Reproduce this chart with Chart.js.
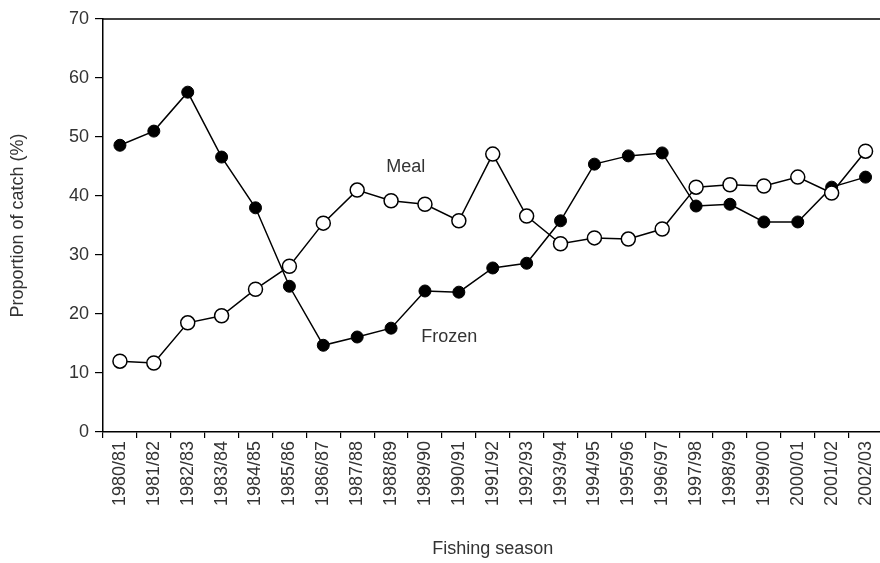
<!DOCTYPE html>
<html>
<head>
<meta charset="utf-8">
<script src="https://cdn.jsdelivr.net/npm/chart.js@4"></script>
<style>
html,body{margin:0;padding:0;background:#fff;overflow:hidden;width:880px;height:563px;}
#wrap{width:891px;height:563px;position:relative;}
</style>
</head>
<body>
<div id="wrap"><canvas id="c" width="891" height="563"></canvas></div>
<script>
const seasons = ["1980/81","1981/82","1982/83","1983/84","1984/85","1985/86","1986/87","1987/88","1988/89","1989/90","1990/91","1991/92","1992/93","1993/94","1994/95","1995/96","1996/97","1997/98","1998/99","1999/00","2000/01","2001/02","2002/03"];
const meal   = [12.0,11.7,18.5,19.7,24.2,28.1,35.4,41.0,39.2,38.6,35.8,47.1,36.6,31.9,32.9,32.7,34.4,41.5,41.9,41.7,43.2,40.5,47.6];
const frozen = [48.6,51.0,57.6,46.6,38.0,24.7,14.7,16.1,17.6,23.9,23.7,27.8,28.6,35.8,45.4,46.8,47.3,38.3,38.6,35.6,35.6,41.5,43.2];
const yTicks = [0,10,20,30,40,50,60,70];
const notes = [
  {text:"Meal",   x:8.43, y:44.9},
  {text:"Frozen", x:9.72, y:16.1}
];

const FONT = "'Liberation Sans', Arial, sans-serif";
const TXT = "#333333";
const FS = 18;

const extras = {
  id:'extras',
  afterDraw(chart){
    const ctx = chart.ctx, a = chart.chartArea;
    const xs = chart.scales.x, ys = chart.scales.y;
    ctx.save();
    ctx.strokeStyle = '#000'; ctx.lineWidth = 1.5;
    ctx.beginPath(); ctx.moveTo(a.left, a.top); ctx.lineTo(a.right, a.top); ctx.stroke();
    ctx.fillStyle = TXT; ctx.font = FS + "px " + FONT;
    ctx.textAlign = 'center'; ctx.textBaseline = 'middle';
    notes.forEach(n => ctx.fillText(n.text, xs.getPixelForValue(n.x), ys.getPixelForValue(n.y)));
    ctx.restore();
  }
};

new Chart(document.getElementById('c'), {
  type:'line',
  data:{
    labels:seasons,
    datasets:[
      {label:'Meal', data:meal, borderColor:'#000', borderWidth:1.5, pointRadius:7, pointBorderWidth:1.5, pointBackgroundColor:'#fff', pointBorderColor:'#000', tension:0},
      {label:'Frozen', data:frozen, borderColor:'#000', borderWidth:1.5, pointRadius:6, pointBorderWidth:1, pointBackgroundColor:'#000', pointBorderColor:'#000', tension:0}
    ]
  },
  options:{
    responsive:false, animation:false,
    layout:{padding:{left:0, top:19, right:0, bottom:0}},
    plugins:{legend:{display:false}, tooltip:{enabled:false}},
    scales:{
      x:{
        offset:true,
        grid:{display:true, drawOnChartArea:false, offset:true, tickLength:6, color:'#000', lineWidth:1.2},
        border:{display:true, color:'#000', width:1.5},
        ticks:{minRotation:90, maxRotation:90, autoSkip:false, padding:3, color:TXT, font:{family:FONT, size:FS}},
        title:{display:true, text:'Fishing season', color:TXT, font:{family:FONT, size:FS}, padding:{top:0,bottom:3}},
        afterFit(s){ s.height = 131; }
      },
      y:{
        min:0, max:70,
        afterBuildTicks(s){ s.ticks = yTicks.map(v => ({value:v})); },
        grid:{display:true, drawOnChartArea:false, tickLength:8, color:'#000', lineWidth:1.2},
        border:{display:true, color:'#000', width:1.5},
        ticks:{padding:6, color:TXT, font:{family:FONT, size:FS}},
        title:{display:true, text:'Proportion of catch (%)', color:TXT, font:{family:FONT, size:FS}, padding:{top:7,bottom:0}},
        afterFit(s){ s.width = 103; }
      }
    }
  },
  plugins:[extras]
});
</script>
</body>
</html>
